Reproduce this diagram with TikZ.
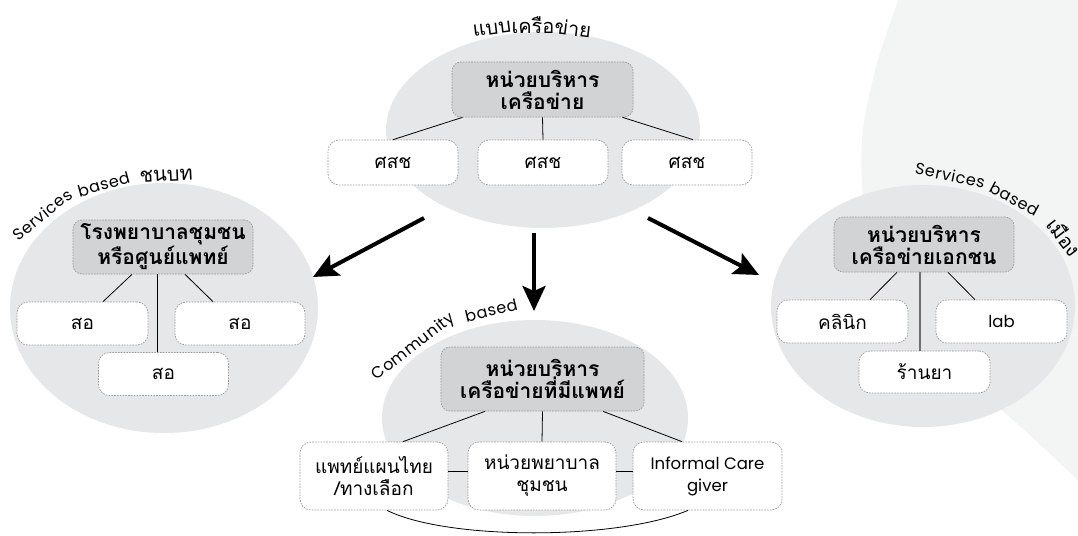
\documentclass[tikz,border=0pt]{standalone}
\usepackage{fontspec}
\newfontfamily\thai[Script=Thai]{Loma}
\newfontfamily\lat{Poppins}
\newfontfamily\latw[LetterSpace=4]{Poppins}
\usetikzlibrary{arrows.meta,calc}

\definecolor{bgc}{HTML}{F3F4F4}
\definecolor{ellc}{HTML}{E6E7E8}
\definecolor{hdc}{HTML}{D2D3D5}
\definecolor{dashc}{HTML}{9A9A9A}
\definecolor{vgray}{HTML}{707070}

\tikzset{
 hdbox/.style={draw=dashc, fill=hdc, rounded corners=9pt, line width=0.7pt,
   dash pattern=on 1.6pt off 1.2pt, align=center, inner sep=0pt,
   font=\thai\bfseries\fontsize{21}{22}\selectfont},
 smbox/.style={draw=dashc, fill=white, rounded corners=11pt, line width=0.7pt,
   dash pattern=on 1.6pt off 1.2pt, align=center, inner sep=0pt,
   font=\thai\fontsize{19}{22}\selectfont, minimum width=130pt, minimum height=43pt},
 latbox/.style={font=\lat\fontsize{16.5}{22}\selectfont},
 link/.style={line width=0.8pt, black},
 vlink/.style={line width=1.6pt, vgray},
 bigarrow/.style={line width=4pt, -{Stealth[length=25pt,width=23pt,inset=5pt]}},
 thlabel/.style={inner sep=0pt, font=\thai\fontsize{20}{20}\selectfont},
 arcword/.style={inner sep=0pt, sloped, anchor=base, font=\latw\fontsize{16}{16}\selectfont},
 arcthai/.style={inner sep=0pt, sloped, anchor=base, font=\thai\fontsize{20}{20}\selectfont},
}

\begin{document}
\begin{tikzpicture}[x=1pt,y=-1pt]
\useasboundingbox (0,0) rectangle (1078,535);
\fill[white] (0,0) rectangle (1078,535);
% faint background shape
\fill[bgc] plot[smooth] coordinates {(899,-2) (876,67) (862,140) (866,220) (895,310) (950,375) (1005,413) (1080,482)} -- (1080,-2) -- cycle;

% cluster ellipses
\fill[ellc] (543,130) ellipse [x radius=157, y radius=98];
\fill[ellc] (164,308) ellipse [x radius=154, y radius=125];
\fill[ellc] (923,306) ellipse [x radius=152, y radius=121];
\fill[ellc] (535,418) ellipse [x radius=153, y radius=98];

% ---------- top cluster ----------
\node[hdbox, minimum width=181, minimum height=55] (topH) at (542.5,89.5) {หน่วยบริหาร\\เครือข่าย};
\node[smbox, minimum height=45] (t1) at (393,162.5) {ศสช};
\node[smbox, minimum height=45] (t2) at (543,162.5) {ศสช};
\node[smbox, minimum height=45] (t3) at (687,162.5) {ศสช};
\draw[link] ([xshift=-80]topH.south) -- (t1.north);
\draw[link] (topH.south) -- (t2.north);
\draw[link] ([xshift=80]topH.south) -- ([xshift=6]t3.north);

\node[thlabel, rotate=7] (n1a) at (492,29) {แบบ};
\node[thlabel] (n1b) at (533,25) {เครือ};
\node[thlabel, rotate=-7] (n1c) at (573,28) {ข่าย};

% ---------- left cluster ----------
\node[hdbox, minimum width=180, minimum height=54] (leftH) at (163,247) {โรงพยาบาลชุมชน\\หรือศูนย์แพทย์};
\node[smbox, minimum width=131] (l1) at (82.5,323.5) {สอ};
\node[smbox] (l2) at (240,323.5) {สอ};
\node[smbox] (l3) at (163.5,374) {สอ};
\draw[link] ([xshift=-31]leftH.south) -- ([xshift=20.5]l1.north);
\draw[link] ([xshift=22]leftH.south) -- ([xshift=-27]l2.north);
\draw[link] ([xshift=-6]leftH.south) -- ([xshift=-6.5]l3.north);

\path (17,252) .. controls (50,200) and (110,178) .. (200,181)
  node[arcword, pos=0.245] (lw1) {Services}
  node[arcword, pos=0.595] (lw2) {based}
  node[arcthai, pos=0.87] (lw3) {ชนบท};

% ---------- right cluster ----------
\node[hdbox, minimum width=180, minimum height=55] (rightH) at (924,244.5) {หน่วยบริหาร\\เครือข่ายเอกชน};
\node[smbox, minimum width=131] (r1) at (842.5,321.5) {คลินิก};
\node[smbox, latbox, minimum width=131] (r2) at (1001.5,321.5) {lab};
\node[smbox, minimum width=131, minimum height=42] (r3) at (924.5,372) {ร้านยา};
\draw[link] ([xshift=-27]rightH.south) -- ([xshift=27.5]r1.north);
\draw[link] ([xshift=24]rightH.south) -- ([xshift=-26.5]r2.north);
\draw[vlink] ([xshift=-4]rightH.south) -- ([xshift=-4.5]r3.north);

\path (914,177) .. controls (960,177) and (1045,205) .. (1070,262)
  node[arcword, pos=0.22] (rw1) {Services}
  node[arcword, pos=0.565] (rw2) {based}
  node[arcthai, pos=0.875] (rw3) {เมือง};

% ---------- bottom cluster ----------
\node[hdbox, minimum width=203, minimum height=64] (botH) at (542.5,379) {หน่วยบริหาร\\เครือข่ายที่มีแพทย์};
\node[smbox, minimum width=148, minimum height=68] (b1) at (374,476) {แพทย์แผนไทย\\/ทางเลือก};
\node[smbox, minimum width=148, minimum height=68] (b2) at (542,476) {หน่วยพยาบาล\\ชุมชน};
\node[smbox, latbox, minimum width=149, minimum height=68] (b3) at (707.5,476) {Informal Care\\giver};
\draw[link] ([xshift=-57.5]botH.south) -- ([xshift=29]b1.north);
\draw[link] (botH.south) -- (b2.north);
\draw[link] ([xshift=60.5]botH.south) -- ([xshift=-25.5]b3.north);
\draw[link] ([yshift=5]b1.east) -- ([yshift=5]b2.west);
\draw[link] ([yshift=5]b2.east) -- ([yshift=5]b3.west);
\draw[link] ([xshift=13]b1.south) .. controls +(60,30) and +(-70,30) .. ([xshift=-19.5]b3.south);

\path (378,398) .. controls (400,350) and (450,320) .. (526,310)
  node[arcword, pos=0.39] (cw1) {Community}
  node[arcword, pos=0.845] (cw2) {based};

% ---------- arrows ----------
\coordinate (a1s) at (424,218);
\coordinate (a1e) at (313,277);
\coordinate (a2s) at (534,233);
\coordinate (a2e) at (534,311);
\coordinate (a3s) at (648,218);
\coordinate (a3e) at (759,275);
\draw[bigarrow] (a1s) -- (a1e);
\draw[bigarrow] (a2s) -- (a2e);
\draw[bigarrow] (a3s) -- (a3e);
\end{tikzpicture}
\end{document}
